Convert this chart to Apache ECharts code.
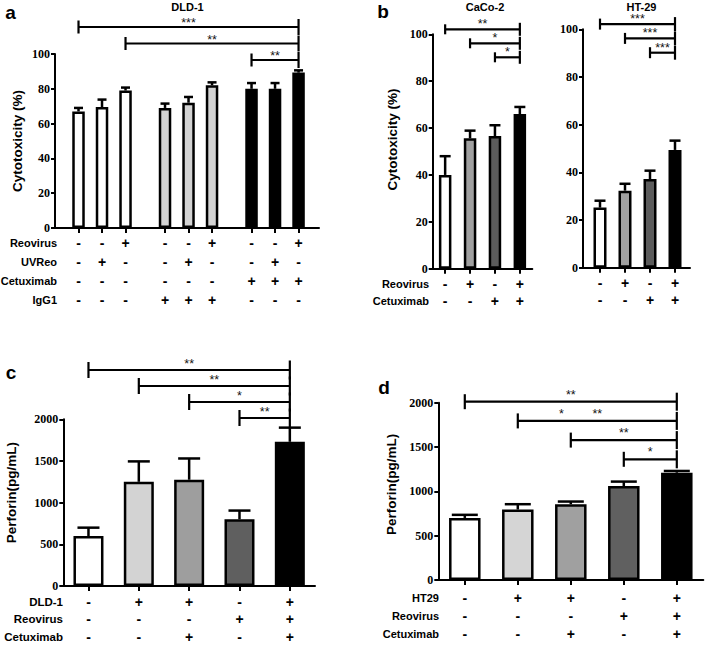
<!DOCTYPE html>
<html><head><meta charset="utf-8">
<script src="https://cdn.jsdelivr.net/npm/echarts@6/dist/echarts.min.js"></script>
<style>html,body{margin:0;padding:0;background:#fff}#chart{width:708px;height:646px}</style>
</head><body><div id="chart"></div>
<script>
// ================= DATA =================
// Panel a: DLD-1 cytotoxicity (%)
const aValues = [67, 69.5, 79, 69, 72, 82, 80, 80, 89.3];
const aErrors = [2, 4.3, 1.7, 2.5, 3.3, 1.7, 3.3, 3.3, 1.3];
const aRowNames = ['Reovirus', 'UVReo', 'Cetuximab', 'IgG1'];
const aReovirus  = ['-', '-', '+', '-', '-', '+', '-', '-', '+'];
const aUVReo     = ['-', '+', '-', '-', '+', '-', '-', '+', '-'];
const aCetuximab = ['-', '-', '-', '-', '-', '-', '+', '+', '+'];
const aIgG1      = ['-', '-', '-', '+', '+', '+', '-', '-', '-'];
const aYTicks = [0, 20, 40, 60, 80, 100];
const aBrackets = [[0, 8, '***'], [2, 8, '**'], [6, 8, '**']];

// Panel b: CaCo-2 and HT-29 cytotoxicity (%)
const bCaCoValues = [40, 55.6, 56.6, 66];
const bCaCoErrors = [8, 3.3, 4.6, 3];
const bHT29Values = [25.2, 32.3, 37.2, 49.4];
const bHT29Errors = [2.9, 2.9, 3.5, 3.9];
const bRowNames = ['Reovirus', 'Cetuximab'];
const bReovirus  = ['-', '+', '-', '+'];
const bCetuximab = ['-', '-', '+', '+'];
const bYTicks = [0, 20, 40, 60, 80, 100];
const bCaCoBrackets = [[0, 3, '**'], [1, 3, '*'], [2, 3, '*']];
const bHT29Brackets = [[0, 3, '***'], [1, 3, '***'], [2, 3, '***']];

// Panel c: DLD-1 perforin (pg/mL)
const cValues = [600, 1250, 1275, 800, 1730];
const cErrors = [100, 245, 255, 105, 170];
const cRowNames = ['DLD-1', 'Reovirus', 'Cetuximab'];
const cDLD1      = ['-', '+', '+', '-', '+'];
const cReovirus  = ['-', '-', '-', '+', '+'];
const cCetuximab = ['-', '-', '+', '-', '+'];
const cYTicks = [0, 500, 1000, 1500, 2000];
const cBrackets = [[0, 4, '**'], [1, 4, '**'], [2, 4, '*'], [3, 4, '**']];

// Panel d: HT29 perforin (pg/mL)
const dValues = [700, 795, 855, 1060, 1210];
const dErrors = [35, 60, 30, 50, 20];
const dRowNames = ['HT29', 'Reovirus', 'Cetuximab'];
const dHT29      = ['-', '+', '+', '-', '+'];
const dReovirus  = ['-', '-', '-', '+', '+'];
const dCetuximab = ['-', '-', '+', '-', '+'];
const dYTicks = [0, 500, 1000, 1500, 2000];
const dBrackets = [[0, 4, '**'], [1, 4, '**', '*'], [2, 4, '**'], [3, 4, '*']];

// ================= STYLE / LAYOUT =================
const SANS = "'Liberation Sans', Arial, Helvetica, sans-serif";
const SERIF = "'Liberation Serif', 'Times New Roman', serif";

const panels = [
  { values: aValues, errors: aErrors, rows: [aReovirus, aUVReo, aCetuximab, aIgG1], rowNames: aRowNames,
    yTicks: aYTicks, brackets: aBrackets,
    colors: ['#ffffff', '#ffffff', '#ffffff', '#d3d3d3', '#d3d3d3', '#d3d3d3', '#000000', '#000000', '#000000'],
    grid: { left: 55, top: 54, width: 264, height: 174 }, xMin: 0, xMax: 11.23, groupSize: 3, groupGap: 0.68,
    barWidth: 12.5, capWidth: 9, labelMargin: 5.5, rowHeight: 19, rowLabelX: 57, rowFont: 11,
    bracketBase: 60, bracketStep: 16.5, tickHalf: 6.5, starLift: 4,
    yName: 'Cytotoxicity (%)', yNameGap: 31, yNameShift: 0 },
  { values: bCaCoValues, errors: bCaCoErrors, rows: [bReovirus, bCetuximab], rowNames: bRowNames,
    yTicks: bYTicks, brackets: bCaCoBrackets,
    colors: ['#ffffff', '#a0a0a0', '#5c5c5c', '#000000'],
    grid: { left: 432.7, top: 34.3, width: 99.6, height: 234.4 }, xMin: 0.5, xMax: 4.5,
    barWidth: 12.5, capWidth: 11, labelMargin: 7.3, rowHeight: 16.7, rowLabelX: 429, rowFont: 11,
    bracketBase: 57.3, bracketStep: 14, tickHalf: 5, starLift: 5,
    yName: 'Cytotoxicity (%)', yNameGap: 33, yNameShift: 24 },
  { values: bHT29Values, errors: bHT29Errors, rows: [bReovirus, bCetuximab], rowNames: null,
    yTicks: bYTicks, brackets: bHT29Brackets,
    colors: ['#ffffff', '#a0a0a0', '#5c5c5c', '#000000'],
    grid: { left: 583, top: 29.3, width: 107, height: 238.4 }, xMin: 0.32, xMax: 4.6,
    barWidth: 13, capWidth: 11, labelMargin: 7.3, rowHeight: 16.7, rowFont: 11,
    bracketBase: 52.7, bracketStep: 14.3, tickHalf: 5.5, starLift: 5,
    yName: '' },
  { values: cValues, errors: cErrors, rows: [cDLD1, cReovirus, cCetuximab], rowNames: cRowNames,
    yTicks: cYTicks, brackets: cBrackets,
    colors: ['#ffffff', '#d3d3d3', '#9e9e9e', '#5f5f5f', '#000000'],
    grid: { left: 63.3, top: 419.3, width: 251.7, height: 166.7 }, xMin: 0.5, xMax: 5.5,
    barWidth: 30, capWidth: 22, labelMargin: 7, rowHeight: 17.5, rowLabelX: 63, rowFont: 11.5,
    bracketBase: 418, bracketStep: 16, tickHalf: 8, starLift: 6,
    yName: 'Perforin(pg/mL)', yNameGap: 45, yNameShift: 20 },
  { values: dValues, errors: dErrors, rows: [dHT29, dReovirus, dCetuximab], rowNames: dRowNames,
    yTicks: dYTicks, brackets: dBrackets,
    colors: ['#ffffff', '#d5d5d5', '#a0a0a0', '#606060', '#000000'],
    grid: { left: 438.3, top: 402.7, width: 265, height: 177.3 }, xMin: 0.5, xMax: 5.5,
    barWidth: 31.5, capWidth: 26, labelMargin: 9.4, rowHeight: 17.8, rowLabelX: 439, rowFont: 11,
    bracketBase: 459.3, bracketStep: 19.2, tickHalf: 7.5, starLift: 7, extraStarAt: 0.275,
    yName: 'Perforin(pg/mL)', yNameGap: 40, yNameShift: 14 }
];

const letters = [['a', 10.5, 12], ['b', 383, 11], ['c', 11, 372], ['d', 384, 387]];
const titles = [['DLD-1', 187.5, 7], ['CaCo-2', 485, 7], ['HT-29', 641.5, 7]];

// ================= BUILD =================
const grids = [], xAxes = [], yAxes = [], series = [], graphics = [];

panels.forEach((p, k) => {
  const pos = i => i + 1 + (p.groupSize ? Math.floor(i / p.groupSize) * p.groupGap : 0);
  const positions = p.values.map((_, i) => pos(i));
  const idxOf = v => positions.findIndex(q => Math.abs(q - v) < 1e-6);

  grids.push(Object.assign({ outerBoundsMode: 'none', containLabel: false }, p.grid));

  xAxes.push({
    gridIndex: k, type: 'value', min: p.xMin, max: p.xMax,
    axisLine: { show: true, onZero: false, lineStyle: { color: '#000', width: 2 } },
    splitLine: { show: false },
    axisTick: { show: true, customValues: positions, length: 5, lineStyle: { color: '#000', width: 2 } },
    axisLabel: {
      show: true, customValues: positions, margin: p.labelMargin,
      formatter: v => { const i = idxOf(v); return i < 0 ? '' : p.rows.map(r => r[i]).join('\n'); },
      fontFamily: SANS, fontWeight: 'bold', fontSize: 14, lineHeight: p.rowHeight, color: '#000'
    }
  });

  const yt = p.yTicks;
  yAxes.push({
    gridIndex: k, type: 'value', min: yt[0], max: yt[yt.length - 1], interval: yt[1] - yt[0],
    axisLine: { show: true, onZero: false, lineStyle: { color: '#000', width: 2 } },
    axisTick: { show: true, length: 4, lineStyle: { color: '#000', width: 2 } },
    splitLine: { show: false },
    axisLabel: { fontFamily: SERIF, fontWeight: 'bold', fontSize: 12, color: '#000', margin: 5,
                 formatter: v => String(v) },
    name: p.yName, nameLocation: 'middle', nameGap: p.yNameGap || 0,
    nameTextStyle: { fontFamily: SANS, fontWeight: 'bold', fontSize: 13.5, color: '#000',
                     padding: [0, 0, 0, p.yNameShift || 0] }
  });

  series.push({
    type: 'bar', xAxisIndex: k, yAxisIndex: k, barWidth: p.barWidth, animation: false, z: 2,
    data: p.values.map((v, i) => ({
      value: [pos(i), v],
      itemStyle: { color: p.colors[i], borderColor: '#000', borderWidth: 2.5 }
    }))
  });

  series.push({
    type: 'custom', xAxisIndex: k, yAxisIndex: k, animation: false, z: 3, clip: false,
    encode: { x: 0, y: 1 },
    data: p.values.map((v, i) => [pos(i), v, p.errors[i]]),
    renderItem: (params, api) => {
      const x = api.value(0), v = api.value(1), e = api.value(2);
      const b = api.coord([x, v]), t = api.coord([x, v + e]);
      const st = { stroke: '#000', lineWidth: 2.5, fill: null };
      return { type: 'group', children: [
        { type: 'line', shape: { x1: b[0], y1: b[1], x2: t[0], y2: t[1] }, style: st },
        { type: 'line', shape: { x1: t[0] - p.capWidth / 2, y1: t[1], x2: t[0] + p.capWidth / 2, y2: t[1] }, style: st }
      ] };
    }
  });

  const n = p.brackets.length;
  series.push({
    type: 'custom', xAxisIndex: k, yAxisIndex: k, animation: false, z: 4, clip: false,
    encode: { x: [0, 1], y: 2 }, silent: true,
    data: p.brackets.map((b, j) => [pos(b[0]), pos(b[1]), j]),
    renderItem: (params, api) => {
      const x1 = api.coord([api.value(0), 0])[0];
      const x2 = api.coord([api.value(1), 0])[0];
      const j = api.value(2);
      const y = p.bracketBase - (n - 1 - j) * p.bracketStep;
      const br = p.brackets[j];
      const h = p.tickHalf;
      const st = { stroke: '#000', lineWidth: 2.2, fill: null };
      const txt = (s, x) => ({ type: 'text', style: { text: s, x: x, y: y - p.starLift, align: 'center', verticalAlign: 'middle',
        fontFamily: SANS, fontSize: 12.5, fontWeight: 'normal', fill: '#111' } });
      const ch = [
        { type: 'line', shape: { x1: x1, y1: y, x2: x2, y2: y }, style: st },
        { type: 'line', shape: { x1: x1, y1: y - h, x2: x1, y2: y + h }, style: st },
        { type: 'line', shape: { x1: x2, y1: y - h - 1.5, x2: x2, y2: y + h + 1.5 }, style: st },
        txt(br[2], (x1 + x2) / 2)
      ];
      if (br[3]) ch.push(txt(br[3], x1 + (x2 - x1) * p.extraStarAt));
      return { type: 'group', children: ch };
    }
  });

  if (p.rowNames) {
    const axisY = p.grid.top + p.grid.height;
    p.rowNames.forEach((name, r) => {
      graphics.push({ type: 'text', x: p.rowLabelX, y: axisY + p.labelMargin + p.rowHeight / 2 + r * p.rowHeight,
        style: { text: name, align: 'right', verticalAlign: 'middle', fontFamily: SANS, fontWeight: 'bold',
                 fontSize: p.rowFont, fill: '#000' } });
    });
  }
});

letters.forEach(([t, x, y]) => graphics.push({ type: 'text', x: x, y: y,
  style: { text: t, align: 'center', verticalAlign: 'middle', fontFamily: SANS, fontWeight: 'bold', fontSize: 19, fill: '#000' } }));
titles.forEach(([t, x, y]) => graphics.push({ type: 'text', x: x, y: y,
  style: { text: t, align: 'center', verticalAlign: 'middle', fontFamily: SANS, fontWeight: 'bold', fontSize: 11, fill: '#000' } }));

const chart = echarts.init(document.getElementById('chart'), null, { renderer: 'svg' });
chart.setOption({
  backgroundColor: '#fff',
  animation: false,
  grid: grids, xAxis: xAxes, yAxis: yAxes, series: series,
  graphic: graphics
});
</script>
</body></html>
